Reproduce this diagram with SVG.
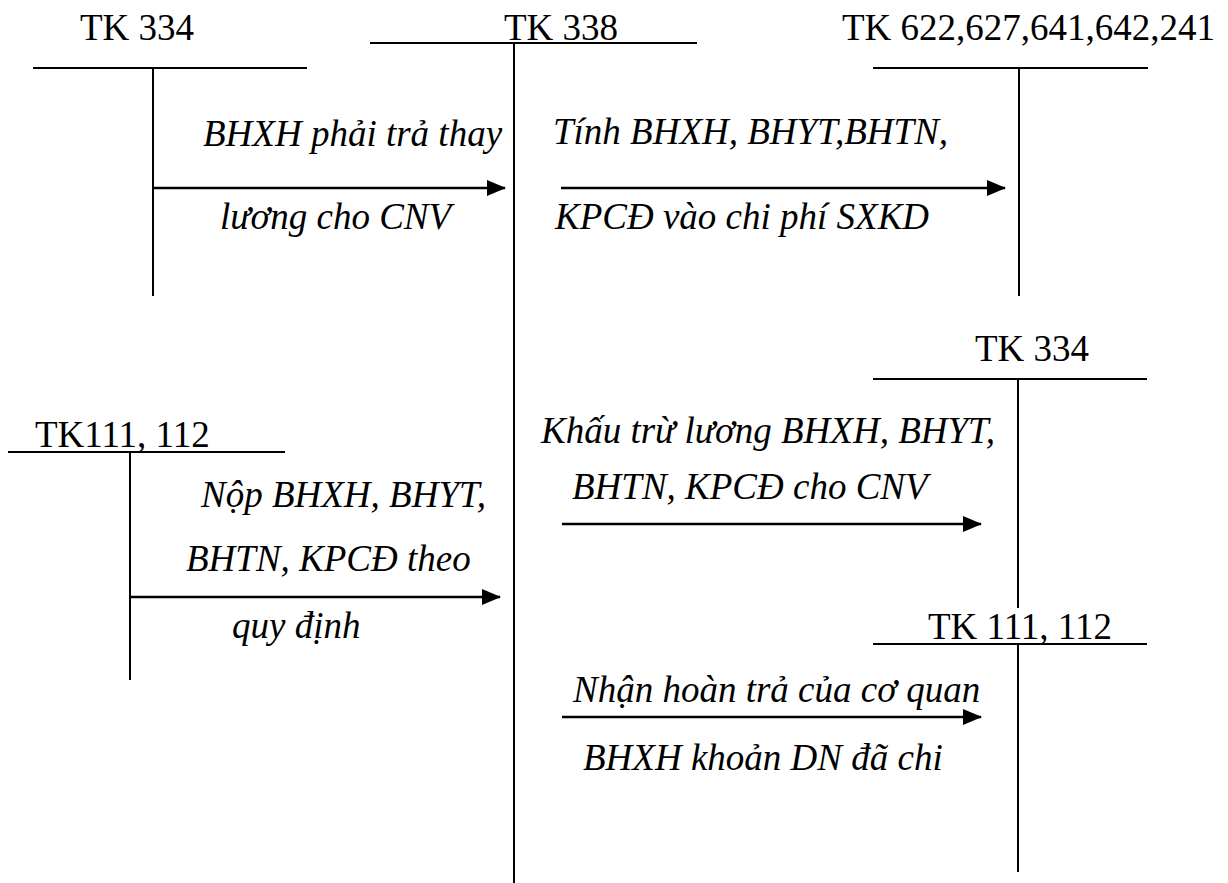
<svg xmlns="http://www.w3.org/2000/svg" width="1228" height="883" viewBox="0 0 1228 883">
<style>
.ln{stroke:#000;stroke-width:2;fill:none}
.ar{stroke:#000;stroke-width:2.6;fill:none}
.t{font-family:'Liberation Serif','Tinos','DejaVu Serif',serif;font-size:37px;fill:#000}
.i{font-family:'Liberation Serif','Tinos','DejaVu Serif',serif;font-size:37px;font-style:italic;fill:#000}
</style>
<defs>
<marker id="ah" markerWidth="19" markerHeight="16" refX="18" refY="8" orient="auto" markerUnits="userSpaceOnUse" viewBox="0 0 19 16">
<path d="M0,0 L19,8 L0,16 Z" fill="#000"/>
</marker>
</defs>
<rect width="1228" height="883" fill="#fff"/>
<g id="tk334-top">
<text class="t" x="80" y="40">TK 334</text>
<line class="ln" x1="33" y1="68" x2="307" y2="68"/>
<line class="ln" x1="153" y1="68" x2="153" y2="296"/>
</g>
<g id="tk338">
<text class="t" x="504" y="40">TK 338</text>
<line class="ln" x1="370" y1="43" x2="697" y2="43"/>
<line class="ln" x1="514" y1="43" x2="514" y2="883"/>
</g>
<g id="tk622">
<text class="t" x="842" y="40">TK 622,627,641,642,241</text>
<line class="ln" x1="873" y1="68" x2="1148" y2="68"/>
<line class="ln" x1="1019" y1="68" x2="1019" y2="296"/>
</g>
<g id="tk334-right">
<text class="t" x="975" y="361">TK 334</text>
<line class="ln" x1="873" y1="379" x2="1147" y2="379"/>
<line class="ln" x1="1018" y1="379" x2="1018" y2="608"/>
</g>
<g id="tk111-left">
<text class="t" x="35" y="447">TK111, 112</text>
<line class="ln" x1="8" y1="452" x2="285" y2="452"/>
<line class="ln" x1="130" y1="452" x2="130" y2="680"/>
</g>
<g id="tk111-right">
<text class="t" x="928" y="639">TK 111, 112</text>
<line class="ln" x1="873" y1="644" x2="1147" y2="644"/>
<line class="ln" x1="1018" y1="644" x2="1018" y2="872"/>
</g>
<g id="connectors">
<line class="ar" x1="153" y1="188" x2="505" y2="188" marker-end="url(#ah)"/>
<line class="ar" x1="561" y1="188" x2="1005" y2="188" marker-end="url(#ah)"/>
<line class="ar" x1="130" y1="597" x2="500" y2="597" marker-end="url(#ah)"/>
<line class="ar" x1="562" y1="524" x2="981" y2="524" marker-end="url(#ah)"/>
<line class="ar" x1="562" y1="717" x2="981" y2="717" marker-end="url(#ah)"/>
</g>
<g id="labels">
<text class="i" x="203" y="146">BHXH phải trả thay</text>
<text class="i" x="220" y="229">lương cho CNV</text>
<text class="i" x="553" y="144">Tính BHXH, BHYT,BHTN,</text>
<text class="i" x="555" y="229">KPCĐ vào chi phí SXKD</text>
<text class="i" x="541" y="443">Khấu trừ lương BHXH, BHYT,</text>
<text class="i" x="572" y="499">BHTN, KPCĐ cho CNV</text>
<text class="i" x="201" y="507">Nộp BHXH, BHYT,</text>
<text class="i" x="186" y="571">BHTN, KPCĐ theo</text>
<text class="i" x="232" y="638">quy định</text>
<text class="i" x="573" y="702">Nhận hoàn trả của cơ quan</text>
<text class="i" x="583" y="770">BHXH khoản DN đã chi</text>
</g>
</svg>
